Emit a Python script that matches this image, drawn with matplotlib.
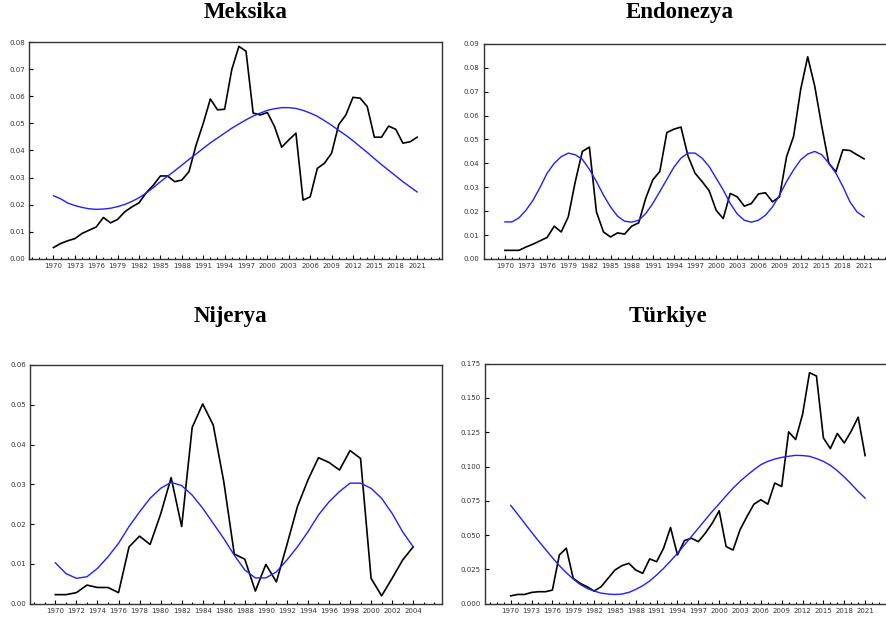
import numpy as np
import matplotlib.pyplot as plt
from matplotlib.ticker import MultipleLocator, FormatStrFormatter

years_long = np.arange(1970, 2022)
years_nga = np.arange(1970, 2005)

mex = [0.0042, 0.0057, 0.0067, 0.0075, 0.0094, 0.0106, 0.0118, 0.0153, 0.0133, 0.0146,
       0.0174, 0.0192, 0.0207, 0.0244, 0.0272, 0.0306, 0.0306, 0.0285, 0.0291, 0.0322,
       0.0420, 0.0500, 0.0590, 0.0550, 0.0552, 0.0698, 0.0784, 0.0766, 0.0538, 0.0531,
       0.0540, 0.0488, 0.0412, 0.0439, 0.0464, 0.0217, 0.0229, 0.0334, 0.0353, 0.0390,
       0.0495, 0.0531, 0.0596, 0.0593, 0.0562, 0.0449, 0.0449, 0.0490, 0.0478, 0.0427,
       0.0432, 0.0449]
mex_trend = [0.0233, 0.0222, 0.0206, 0.0197, 0.0190, 0.0185, 0.0183, 0.0184, 0.0187, 0.0193,
             0.0201, 0.0212, 0.0226, 0.0243, 0.0263, 0.0285, 0.0305, 0.0325, 0.0346, 0.0367,
             0.0387, 0.0408, 0.0428, 0.0446, 0.0464, 0.0482, 0.0498, 0.0513, 0.0527, 0.0538,
             0.0548, 0.0554, 0.0558, 0.0558, 0.0555, 0.0548, 0.0538, 0.0526, 0.0510, 0.0493,
             0.0474, 0.0456, 0.0436, 0.0414, 0.0393, 0.0370, 0.0348, 0.0327, 0.0306, 0.0285,
             0.0266, 0.0247]

idn = [0.0036, 0.0036, 0.0036, 0.0050, 0.0062, 0.0076, 0.0090, 0.0137, 0.0113, 0.0176,
       0.0324, 0.0450, 0.0468, 0.0197, 0.0113, 0.0092, 0.0109, 0.0104, 0.0137, 0.0151,
       0.0254, 0.0331, 0.0366, 0.0529, 0.0543, 0.0552, 0.0431, 0.0359, 0.0324, 0.0286,
       0.0204, 0.0169, 0.0274, 0.0260, 0.0221, 0.0232, 0.0272, 0.0277, 0.0239, 0.0260,
       0.0428, 0.0513, 0.0709, 0.0846, 0.0723, 0.0555, 0.0400, 0.0365, 0.0457, 0.0454,
       0.0436, 0.0419]
idn_trend = [0.0155, 0.0155, 0.0172, 0.0204, 0.0246, 0.0300, 0.0359, 0.0400, 0.0428, 0.0443,
             0.0436, 0.0417, 0.0375, 0.0324, 0.0267, 0.0218, 0.0179, 0.0158, 0.0154, 0.0162,
             0.0190, 0.0232, 0.0282, 0.0333, 0.0384, 0.0422, 0.0443, 0.0443, 0.0422, 0.0387,
             0.0338, 0.0289, 0.0232, 0.0188, 0.0162, 0.0154, 0.0162, 0.0183, 0.0218, 0.0267,
             0.0324, 0.0373, 0.0415, 0.0439, 0.0450, 0.0436, 0.0401, 0.0359, 0.0303, 0.0239,
             0.0197, 0.0176]

nga = [0.0023, 0.0023, 0.0028, 0.0047, 0.0041, 0.0041, 0.0028, 0.0143, 0.0170, 0.0149,
       0.0225, 0.0317, 0.0194, 0.0443, 0.0502, 0.0449, 0.0307, 0.0125, 0.0112, 0.0032,
       0.0099, 0.0055, 0.0148, 0.0244, 0.0311, 0.0367, 0.0355, 0.0336, 0.0385, 0.0365,
       0.0064, 0.0020, 0.0064, 0.0110, 0.0143]
nga_trend = [0.0103, 0.0076, 0.0064, 0.0068, 0.0089, 0.0118, 0.0152, 0.0194, 0.0231, 0.0265,
             0.0290, 0.0305, 0.0297, 0.0273, 0.0240, 0.0202, 0.0164, 0.0122, 0.0085, 0.0065,
             0.0065, 0.0080, 0.0110, 0.0143, 0.0181, 0.0223, 0.0256, 0.0282, 0.0303, 0.0303,
             0.0290, 0.0265, 0.0227, 0.0181, 0.0143]

tur = [0.0058, 0.0068, 0.0068, 0.0083, 0.0088, 0.0088, 0.0100, 0.0356, 0.0405, 0.0185,
       0.0149, 0.0124, 0.0093, 0.0124, 0.0185, 0.0246, 0.0278, 0.0295, 0.0246, 0.0222,
       0.0327, 0.0307, 0.0405, 0.0556, 0.0356, 0.0461, 0.0478, 0.0453, 0.0514, 0.0587,
       0.0678, 0.0417, 0.0392, 0.0539, 0.0636, 0.0726, 0.0758, 0.0726, 0.0880, 0.0855,
       0.1253, 0.1197, 0.1380, 0.1684, 0.1660, 0.1209, 0.1131, 0.1241, 0.1172, 0.1258,
       0.1360, 0.1080]
tur_trend = [0.0717, 0.0653, 0.0587, 0.0522, 0.0458, 0.0397, 0.0336, 0.0278, 0.0227, 0.0180,
             0.0141, 0.0112, 0.0093, 0.0078, 0.0071, 0.0068, 0.0071, 0.0083, 0.0105, 0.0132,
             0.0166, 0.0210, 0.0258, 0.0312, 0.0368, 0.0429, 0.0490, 0.0551, 0.0612, 0.0673,
             0.0729, 0.0787, 0.0843, 0.0892, 0.0936, 0.0977, 0.1014, 0.1038, 0.1055, 0.1067,
             0.1075, 0.1082, 0.1080, 0.1075, 0.1058, 0.1038, 0.1009, 0.0970, 0.0924, 0.0873,
             0.0819, 0.0770]

fig = plt.figure(figsize=(8.86, 6.27), dpi=100)

panels = [
    # title, years, black, blue, rect, xlim, ymax, ystep, fmt, xstep, title pos
    ('Meksika', years_long, mex, mex_trend, [0.033, 0.587, 0.466, 0.346],
     (1966.6, 2024.5), 0.08, 0.01, '%.2f', 3, (0.277, 0.980)),
    ('Endonezya', years_long, idn, idn_trend, [0.546, 0.587, 0.461, 0.343],
     (1967.0, 2025.0), 0.09, 0.01, '%.2f', 3, (0.767, 0.980)),
    ('Nijerya', years_nga, nga, nga_trend, [0.034, 0.037, 0.465, 0.381],
     (1967.6, 2006.75), 0.06, 0.01, '%.2f', 2, (0.26, 0.495)),
    ('Türkiye', years_long, tur, tur_trend, [0.547, 0.037, 0.460, 0.383],
     (1966.25, 2024.9), 0.175, 0.025, '%.3f', 3, (0.754, 0.495)),
]

for title, yrs, black, blue, rect, xl, ymax, ystep, fmt, xstep, tpos in panels:
    ax = fig.add_axes(rect)
    ax.plot(yrs, black, color='black', lw=1.2)
    ax.plot(yrs, blue, color='#1f1fff', lw=1.0)
    ax.set_xlim(*xl)
    ax.set_ylim(0, ymax)
    ax.set_xticks(np.arange(yrs[0], yrs[-1] + 1, xstep))
    ax.xaxis.set_minor_locator(MultipleLocator(1))
    ax.yaxis.set_major_locator(MultipleLocator(ystep))
    ax.yaxis.set_major_formatter(FormatStrFormatter(fmt))
    ax.tick_params(which='major', direction='in', length=3, width=0.8,
                   labelsize=5, labelcolor='#333333', pad=3)
    ax.tick_params(which='minor', direction='in', length=1.5, width=0.8)
    ax.tick_params(axis='y', which='minor', left=False)
    for s in ax.spines.values():
        s.set_color('#333333')
        s.set_linewidth(1.0)
    fig.text(tpos[0], tpos[1], title, ha='center', va='center',
             fontsize=16.5, fontweight='bold', family='Liberation Serif')

fig.savefig('out.png', dpi=100)
